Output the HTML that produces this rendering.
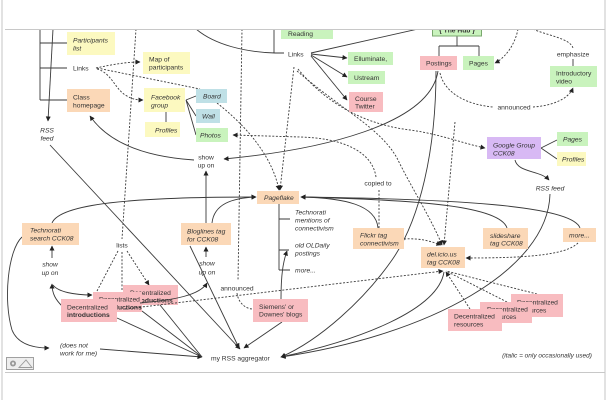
<!DOCTYPE html>
<html><head><meta charset="utf-8">
<style>
html,body{margin:0;padding:0;background:#fff;}
svg{display:block;}
text{font-family:"Liberation Sans",Arial,sans-serif;font-size:6.7px;fill:#333;}
.i{font-style:italic;}
.b{font-weight:bold;}
.c{text-anchor:middle;}
.s{fill:none;stroke:#3a3a3a;stroke-width:0.9;}
.d{fill:none;stroke:#3a3a3a;stroke-width:0.9;stroke-dasharray:2 1.6;}
</style></head><body>
<svg width="608" height="400" viewBox="0 0 608 400" xmlns="http://www.w3.org/2000/svg">
<defs>
<marker id="a" viewBox="0 0 10 10" refX="9" refY="5" markerWidth="6" markerHeight="5" markerUnits="userSpaceOnUse" orient="auto"><path d="M0,0 L10,5 L0,10 z" fill="#222"/></marker>
<clipPath id="cl"><rect x="3" y="29.5" width="601" height="342.5"/></clipPath>
</defs>
<rect width="608" height="400" fill="#fff"/>
<g clip-path="url(#cl)">
<!-- solid connectors -->
<path class="s" d="M40,29 V100 M40,43 H67 M40,68 H67 M40,100 H67"/>
<path class="s" d="M53,29 L48,121" marker-end="url(#a)"/>
<path class="s" d="M186,100 L196,96 M186,100 L196,116 M186,100 L196,135"/>
<path class="s" d="M166,112 V122"/>
<path class="s" d="M196,29 C215,45 245,52 275,53 M274,29 V53 H284"/>
<path class="s" d="M311,53 L418,29"/>
<path class="s" d="M311,54 L347,58" marker-end="url(#a)"/>
<path class="s" d="M311,55 L347,77" marker-end="url(#a)"/>
<path class="s" d="M311,56 L347,100" marker-end="url(#a)"/>
<path class="s" d="M457,36 V46 M439,46 H479 M439,46 V56 M479,46 V56"/>
<path class="s" d="M573,59 V66"/>
<path class="s" d="M541,148 L557,140 M541,148 L557,159"/>
<path class="s" d="M515,160 C518,173 540,170 549,180" marker-end="url(#a)"/>
<path class="s" d="M550,194 C548,270 430,335 281,357" marker-end="url(#a)"/>
<path class="s" d="M438,71 C430,125 320,150 224,159" marker-end="url(#a)"/>
<path class="s" d="M436,71 C436,150 420,220 392,260 C364,300 320,340 281,357" marker-end="url(#a)"/>
<path class="s" d="M444,272 C438,310 360,340 281,357" marker-end="url(#a)"/>
<path class="s" d="M194,160 C150,157 110,145 90,116" marker-end="url(#a)"/>
<path class="s" d="M206,223 V171" marker-end="url(#a)"/>
<path class="s" d="M206,257 V247" marker-end="url(#a)"/>
<path class="s" d="M212,223 C214,204 232,198 256,197" marker-end="url(#a)"/>
<path class="s" d="M52,223 C60,204 130,197 256,197" marker-end="url(#a)"/>
<path class="s" d="M378,228 C376,205 345,198 301,197" marker-end="url(#a)"/>
<path class="s" d="M507,228 C500,206 420,200 301,197" marker-end="url(#a)"/>
<path class="s" d="M580,228 C572,205 450,199 301,197" marker-end="url(#a)"/>
<path class="s" d="M279,204 V270 M279,219 H290 M279,250 H289 M279,270 H290"/>
<path class="s" d="M281,299 C281,275 283,262 287,251" marker-end="url(#a)"/>
<path class="s" d="M282,322 L244,348" marker-end="url(#a)"/>
<path class="s" d="M50,145 L240,349" marker-end="url(#a)"/>
<path class="s" d="M190,246 L239,348" marker-end="url(#a)"/>
<path class="s" d="M52,258 V246" marker-end="url(#a)"/>
<path class="s" d="M22,237 C8,250 3,300 12,330 C18,345 35,348 49,348" marker-end="url(#a)"/>
<path class="s" d="M100,349 L202,357" marker-end="url(#a)"/>
<path class="s" d="M117,318 L202,357"/>
<path class="s" d="M142,311 L202,357"/>
<path class="s" d="M160,305 L202,357"/>
<path class="s" d="M62,306 C56,300 52,294 52,284" marker-end="url(#a)"/>
<path class="s" d="M53,285 C58,292 75,295 92,295" marker-end="url(#a)"/>

<!-- dashed connectors -->
<path class="d" d="M136,29 L122,239"/>
<path class="d" d="M96,68 C110,65 125,62 140,62" marker-end="url(#a)"/>
<path class="d" d="M97,69 C112,73 115,90 127,96 C132,99 136,100 143,100" marker-end="url(#a)"/>
<path class="d" d="M97,68 L200,89"/>
<path class="d" d="M217,103 C245,125 272,155 279,190" marker-end="url(#a)"/>
<path class="d" d="M294,67 L280,190" marker-end="url(#a)"/>
<path class="d" d="M242,29 L238,281"/>
<path class="d" d="M237,293 C238,302 245,309 253,309"/>
<path class="d" d="M376,177 C372,150 340,138 300,137 L233,135" marker-end="url(#a)"/>
<path class="d" d="M379,228 L379,190"/>
<path class="d" d="M298,69 C330,108 370,125 410,130 C440,134 465,144 485,148" marker-end="url(#a)"/>
<path class="d" d="M297,71 C345,112 380,128 397,158 C410,185 432,220 442,245" marker-end="url(#a)"/>
<path class="d" d="M455,122 L444,245" marker-end="url(#a)"/>
<path class="d" d="M404,239 C420,238 430,241 441,245" marker-end="url(#a)"/>
<path class="d" d="M578,243 C565,256 520,258 466,258" marker-end="url(#a)"/>
<path class="d" d="M507,302 L446,271 M537,294 L446,271"/>
<path class="d" d="M470,309 L446,272" marker-end="url(#a)"/>
<path class="d" d="M118,251 L97,291 M122,252 L122,291"/>
<path class="d" d="M127,251 L149,285" marker-end="url(#a)"/>
<path class="d" d="M518,29 C515,45 505,58 495,63" marker-end="url(#a)"/>
<path class="d" d="M533,29 C545,35 570,38 573,48"/>
<path class="d" d="M440,73 C445,95 470,105 493,107"/>
<path class="d" d="M533,107 C550,106 568,100 573,88" marker-end="url(#a)"/>

<!-- boxes -->
<rect x="67" y="32" width="48" height="23" fill="#fcf9c0"/>
<rect x="143" y="52" width="47" height="22" fill="#fcf9c0"/>
<rect x="67" y="89" width="43" height="23" fill="#fbd8b7"/>
<rect x="144" y="88" width="41" height="24" fill="#fcf9c0"/>
<rect x="145" y="122" width="35" height="15" fill="#fcf9c0"/>
<rect x="196" y="89" width="31" height="14" fill="#bfe0e6"/>
<rect x="196" y="109" width="24" height="14" fill="#bfe0e6"/>
<rect x="196" y="128" width="32" height="14" fill="#c9f3bd"/>
<rect x="281" y="27" width="52" height="12" fill="#c9f3bd"/>
<rect x="348" y="52" width="45" height="13" fill="#c9f3bd"/>
<rect x="348" y="71" width="37" height="13" fill="#c9f3bd"/>
<rect x="349" y="92" width="34" height="20" fill="#f8bcc0"/>
<rect x="432.5" y="18" width="49" height="18" fill="#c9f3bd" stroke="#7aa86e" stroke-width="1"/>
<rect x="420" y="56" width="37" height="14" fill="#f8bcc0"/>
<rect x="463" y="56" width="31" height="14" fill="#c9f3bd"/>
<rect x="550" y="66" width="47" height="21" fill="#c9f3bd"/>
<rect x="487" y="137" width="54" height="22" fill="#d8b9f4"/>
<rect x="557" y="132" width="31" height="14" fill="#c9f3bd"/>
<rect x="557" y="152" width="29" height="14" fill="#fcf9c0"/>
<rect x="257" y="191" width="42" height="13" fill="#fbd8b7"/>
<rect x="22" y="223" width="57" height="22" fill="#fbd8b7"/>
<rect x="181" y="223" width="50" height="22" fill="#fbd8b7"/>
<rect x="353" y="228" width="51" height="21" fill="#fbd8b7"/>
<rect x="483" y="228" width="45" height="21" fill="#fbd8b7"/>
<rect x="563" y="228" width="33" height="14" fill="#fbd8b7"/>
<rect x="421" y="247" width="44" height="21" fill="#fbd8b7"/>
<rect x="253" y="299" width="55" height="23" fill="#f8bcc0"/>

<!-- Decentralized introductions stack -->
<rect x="123" y="285" width="55" height="20" fill="#f8bcc0"/>
<text x="130" y="295">Decentralized</text>
<text x="130" y="302.5" class="b">introductions</text>
<rect x="93" y="292" width="49" height="20" fill="#f8bcc0"/>
<text x="99" y="301.5">Decentralized</text>
<text x="99" y="309.5" class="b">introductions</text>
<rect x="61" y="299" width="56" height="23" fill="#f8bcc0"/>
<text x="67" y="309.4">Decentralized</text>
<text x="67" y="316.8" class="b">introductions</text>

<!-- Decentralized resources stack -->
<rect x="511" y="294" width="52" height="23" fill="#f8bcc0"/>
<text x="517" y="304.4">Decentralized</text>
<text x="517" y="312.4">resources</text>
<rect x="480" y="302" width="52" height="21" fill="#f8bcc0"/>
<text x="487" y="311.4">Decentralized</text>
<text x="487" y="319.2">resources</text>
<rect x="448" y="309" width="54" height="22" fill="#f8bcc0"/>
<text x="454" y="318.4">Decentralized</text>
<text x="454" y="326.4">resources</text>

<!-- connectors drawn over boxes -->
<path class="d" d="M125,309 L443,271" marker-end="url(#a)"/>
<path class="s" d="M140,303 C175,300 200,295 207,283" marker-end="url(#a)"/>

<!-- labels -->
<text x="73" y="42.4" class="i">Participants</text>
<text x="73" y="50.4" class="i">list</text>
<text x="73" y="70.4">Links</text>
<text x="149" y="61.4">Map of</text>
<text x="149" y="69.4">participants</text>
<text x="73" y="99.4">Class</text>
<text x="73" y="107.4">homepage</text>
<text x="151" y="99.4" class="i">Facebook</text>
<text x="151" y="107.4" class="i">group</text>
<text x="155" y="132.4" class="i">Profiles</text>
<text x="47" y="132.4" class="i c">RSS</text>
<text x="47" y="140.4" class="i c">feed</text>
<text x="203" y="98.4" class="i">Board</text>
<text x="202" y="118.4" class="i">Wall</text>
<text x="200" y="137.4" class="i">Photos</text>
<text x="288" y="36">Reading</text>
<text x="288" y="56.4">Links</text>
<text x="354" y="61">Elluminate,</text>
<text x="354" y="80">Ustream</text>
<text x="355" y="101">Course</text>
<text x="355" y="108.5">Twitter</text>
<text x="457" y="32.5" class="c b">{ The Hub }</text>
<text x="426" y="65.4">Postings</text>
<text x="469" y="65.4">Pages</text>
<text x="573" y="56.4" class="c">emphasize</text>
<text x="556" y="75.4">Introductory</text>
<text x="556" y="83.4">video</text>
<text x="514" y="109.4" class="c">announced</text>
<text x="493" y="147.4" class="i">Google Group</text>
<text x="493" y="155.4" class="i">CCK08</text>
<text x="563" y="141.4" class="i">Pages</text>
<text x="562" y="161.4" class="i">Profiles</text>
<text x="550" y="190.4" class="i c">RSS feed</text>
<text x="206" y="159.4" class="c">show</text>
<text x="206" y="167.4" class="c">up on</text>
<text x="378" y="185.4" class="c">copied to</text>
<text x="264" y="200" class="i">Pageflake</text>
<text x="295" y="214.4" class="i">Technorati</text>
<text x="295" y="222.4" class="i">mentions of</text>
<text x="295" y="230.4" class="i">connectivism</text>
<text x="295" y="247.4" class="i">old OLDaily</text>
<text x="295" y="255.4" class="i">postings</text>
<text x="295" y="272.4" class="i">more...</text>
<text x="30" y="232.4" class="i">Technorati</text>
<text x="30" y="240.4" class="i">search CCK08</text>
<text x="122" y="247.4" class="c">lists</text>
<text x="187" y="233.4" class="i">Bloglines tag</text>
<text x="187" y="241.4" class="i">for CCK08</text>
<text x="50" y="266.4" class="i c">show</text>
<text x="50" y="275" class="i c">up on</text>
<text x="207" y="265.4" class="i c">show</text>
<text x="207" y="274.4" class="i c">up on</text>
<text x="360" y="237.4" class="i">Flickr tag</text>
<text x="360" y="245.4" class="i">connectivism</text>
<text x="490" y="238" class="i">slideshare</text>
<text x="490" y="245.5" class="i">tag CCK08</text>
<text x="569" y="237.4" class="i">more...</text>
<text x="427" y="256.4" class="i">del.icio.us</text>
<text x="427" y="264.4" class="i">tag CCK08</text>
<text x="237" y="290.4" class="c">announced</text>
<text x="259" y="309">Siemens' or</text>
<text x="259" y="316.7">Downes' blogs</text>
<text x="60" y="347.4" class="i">(does not</text>
<text x="60" y="355.4" class="i">work for me)</text>
<text x="211" y="360.4">my RSS aggregator</text>
<text x="547" y="357.4" class="i c" style="font-size:6.5px">(italic = only occasionally used)</text>
</g>

<!-- frame -->
<line x1="2" y1="0" x2="2" y2="400" stroke="#c4c4c4" stroke-width="1"/>
<line x1="605" y1="0" x2="605" y2="400" stroke="#c4c4c4" stroke-width="1"/>
<line x1="5" y1="29.5" x2="605" y2="29.5" stroke="#c8c8c8" stroke-width="1"/>
<line x1="5" y1="372.5" x2="605" y2="372.5" stroke="#c8c8c8" stroke-width="1"/>

<!-- bottom-left icon -->
<rect x="6.5" y="357.5" width="27" height="12" fill="#eeeeee" stroke="#a0a0a0" stroke-width="1"/>
<circle cx="13" cy="363.5" r="3" fill="#9a9a9a"/>
<circle cx="13" cy="363.5" r="1.2" fill="#eeeeee"/>
<path d="M19,367.5 L26,360 L32,367.5 z" fill="none" stroke="#9a9a9a" stroke-width="0.9"/>
</svg>
</body></html>
